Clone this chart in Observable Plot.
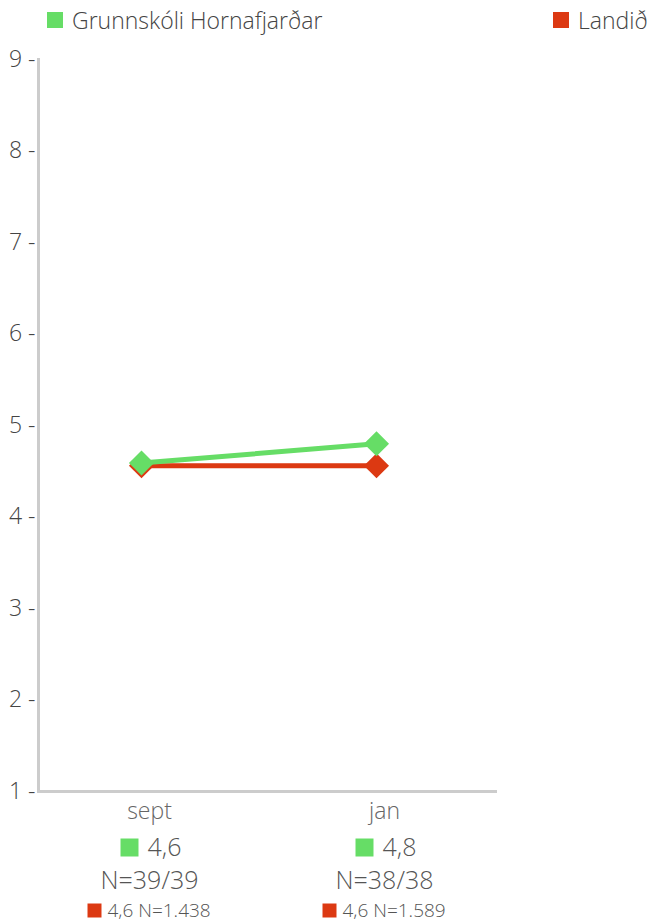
<!DOCTYPE html>
<html>
<head>
<meta charset="utf-8">
<script src="https://cdn.jsdelivr.net/npm/d3@7"></script>
<script src="https://cdn.jsdelivr.net/npm/@observablehq/plot@0.6"></script>
<style>
  html, body { margin: 0; padding: 0; background: #fff; }
  body { width: 655px; height: 921px; overflow: hidden; font-family: "Open Sans", Lato, sans-serif; }
  #legend { position: relative; height: 40px; font-size: 23px; color: #444; font-weight: 300; }
  .item { position: absolute; top: 4px; display: flex; align-items: center; }
  .sw { width: 16px; height: 16px; display: inline-block; margin-right: 9px; }
</style>
</head>
<body>
<div id="legend"></div>
<div id="chart"></div>
<script>
const months = ["sept", "jan"];
const schoolName = "Grunnskóli Hornafjarðar";
const nationalName = "Landið";
const schoolValues = [4.59, 4.80];
const nationalValues = [4.56, 4.56];
const schoolLabels = ["4,6", "4,8"];
const schoolN = ["N=39/39", "N=38/38"];
const nationalLabels = ["4,6 N=1.438", "4,6 N=1.589"];
const yTicks = [1, 2, 3, 4, 5, 6, 7, 8, 9];

const green = "#66dd66";
const red = "#dc3912";

// Legend
const legend = document.getElementById("legend");
[[schoolName, green, 47], [nationalName, red, 553]].forEach(([name, color, left]) => {
  const it = document.createElement("div");
  it.className = "item";
  it.style.left = left + "px";
  it.innerHTML = `<span class="sw" style="background:${color}"></span><span>${name}</span>`;
  legend.appendChild(it);
});

const school = months.map((m, i) => ({month: m, value: schoolValues[i], label: schoolLabels[i], n: schoolN[i]}));
const national = months.map((m, i) => ({month: m, value: nationalValues[i], label: nationalLabels[i]}));

const dx = 8;
const chart = Plot.plot({
  width: 655,
  height: 881,
  marginLeft: 38,
  marginRight: 160,
  marginTop: 19,
  marginBottom: 130,
  style: {fontFamily: "'Open Sans', Lato, sans-serif", fontWeight: 300, background: "#fff", overflow: "visible"},
  x: {type: "point", domain: months, padding: 0.472, align: 0.464, axis: null},
  y: {domain: [1, 9], ticks: yTicks, axis: null},
  marks: [
    Plot.axisY({ticks: yTicks, tickSize: 0, tickPadding: 3, tickFormat: d => d + " -", fontSize: 23, fill: "#444", label: null}),
    Plot.frame({anchor: "left", stroke: "#cccccc", strokeWidth: 3}),
    Plot.frame({anchor: "bottom", stroke: "#cccccc", strokeWidth: 3}),
    Plot.line(national, {x: "month", y: "value", stroke: red, strokeWidth: 5}),
    Plot.dot(national, {x: "month", y: "value", symbol: "diamond2", r: 11.3, fill: red}),
    Plot.line(school, {x: "month", y: "value", stroke: green, strokeWidth: 5}),
    Plot.dot(school, {x: "month", y: "value", symbol: "diamond2", r: 11.3, fill: green}),
    // labels below
    Plot.text(months, {x: d => d, text: d => d, frameAnchor: "bottom", dy: 20, dx: dx, lineAnchor: "middle", fontSize: 23, fill: "#666"}),
    Plot.dot(school, {x: "month", frameAnchor: "bottom", dy: 56, dx: dx - 20, symbol: "square", r: 10.15, fill: green}),
    Plot.text(school, {x: "month", text: "label", frameAnchor: "bottom", dy: 56, dx: dx - 2, textAnchor: "start", lineAnchor: "middle", fontSize: 25, fill: "#555"}),
    Plot.text(school, {x: "month", text: "n", frameAnchor: "bottom", dy: 89, dx: dx, lineAnchor: "middle", fontSize: 25, fill: "#555"}),
    Plot.dot(national, {x: "month", frameAnchor: "bottom", dy: 119, dx: dx - 55, symbol: "square", r: 7.9, fill: red}),
    Plot.text(national, {x: "month", text: "label", frameAnchor: "bottom", dy: 119, dx: dx - 42, textAnchor: "start", lineAnchor: "middle", fontSize: 19, fill: "#555"})
  ]
});
document.getElementById("chart").appendChild(chart);
</script>
</body>
</html>
